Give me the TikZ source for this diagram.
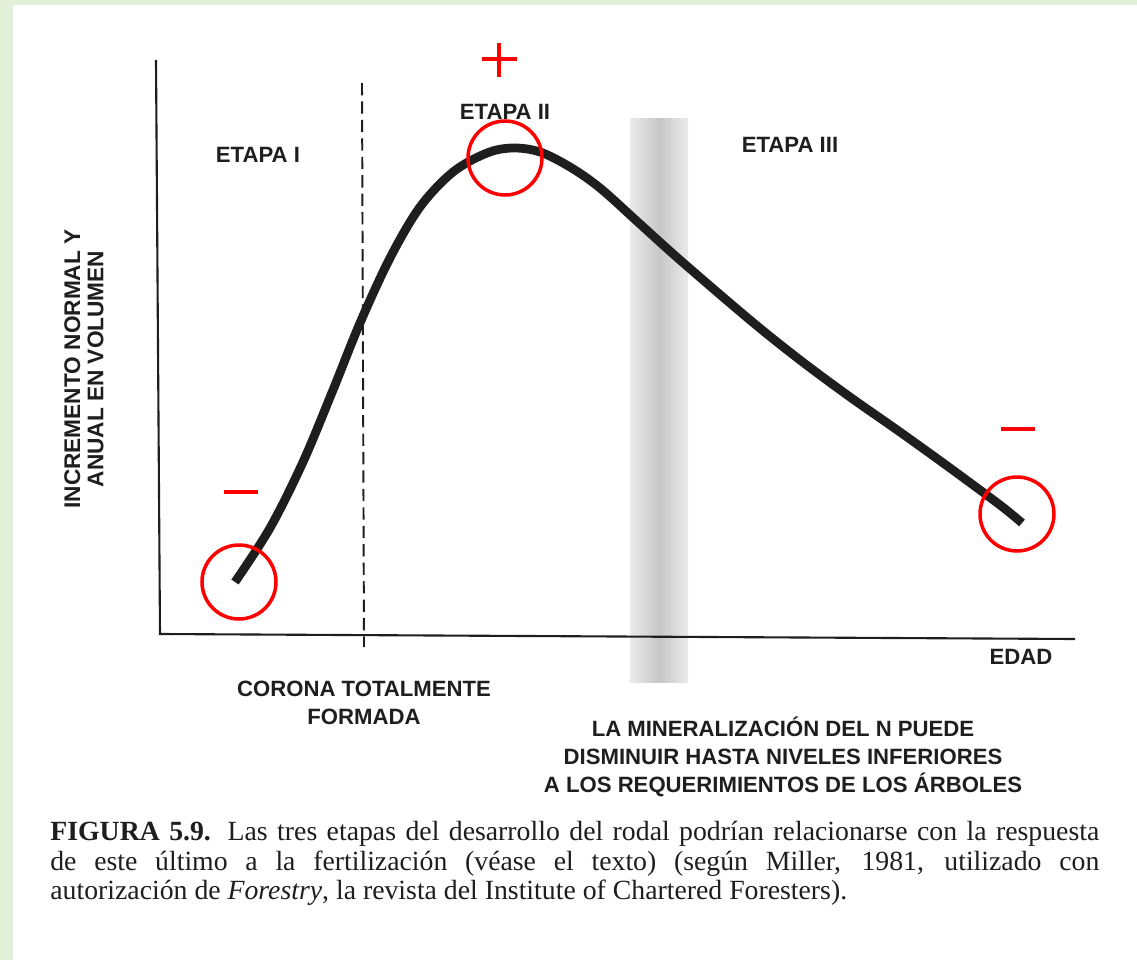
\documentclass[tikz,border=0pt]{standalone}
\usepackage{fontspec}
\setmainfont{Liberation Serif}
\setsansfont{Liberation Sans}
\definecolor{pagegreen}{HTML}{E2EFD9}
\definecolor{inkc}{HTML}{1E1E1E}
\begin{document}
\begin{tikzpicture}[x=0.02cm,y=-0.02cm,
  lbl/.style={font=\sffamily\bfseries\fontsize{12.6}{15.8}\selectfont, inner sep=0, align=center, text=inkc},
  redcirc/.style={circle, draw=red, line width=2pt, minimum size=1.48cm, inner sep=0},
  redmark/.style={red, line width=2.5pt},
  axisline/.style={inkc, line width=1.2pt},
  stageline/.style={inkc, line width=1.1pt, dash pattern=on 7pt off 3.5pt},
  curveline/.style={inkc, line width=5pt, line join=round}
]
\useasboundingbox (0,0) rectangle (1137,960);
\fill[white] (0,0) rectangle (1137,960);
\fill[pagegreen] (0,0) rectangle (1137,5);
\fill[pagegreen] (0,0) rectangle (13,960);

% grey band
\shade[left color=black!8, right color=black!8, middle color=black!22] (630,118) rectangle (688,682);

% axes
\coordinate (ytop) at (156,60);
\coordinate (origin) at (160,634);
\coordinate (xend) at (1075,639);
\draw[axisline] (ytop) -- (origin) -- (xend);

% dashed stage line
\coordinate (dtop) at (362,83);
\coordinate (dbot) at (364,647);
\draw[stageline] (dtop) -- (dbot);

% curve
\draw[curveline] plot[smooth, tension=0.55] coordinates {
 (235,582) (270,528) (303,462) (333,390) (360,323) (390,258) (420,207)
 (453,172) (487,153) (513,148) (540,152) (570,167) (600,188) (640,224)
 (680,260) (750,320) (800,360) (850,397) (900,432) (950,468) (1000,505) (1022,523)};

% labels
\node[lbl] (etapa1) at (258,155) {ETAPA I};
\node[lbl] (etapa2) at (505,112) {ETAPA II};
\node[lbl] (etapa3) at (790,145) {ETAPA III};
\node[lbl] (edad) at (1021,657) {EDAD};
\node[lbl] (corona) at (364,703) {CORONA TOTALMENTE\\FORMADA};
\node[lbl] (mineral) at (783,757) {LA MINERALIZACIÓN DEL N PUEDE\\DISMINUIR HASTA NIVELES INFERIORES\\A LOS REQUERIMIENTOS DE LOS ÁRBOLES};
\node[lbl, rotate=90, font=\sffamily\bfseries\fontsize{12.9}{13.3}\selectfont] (ylabel) at (84,369) {INCREMENTO NORMAL Y\\ANUAL EN VOLUMEN};

% caption
\node[anchor=north west, inner sep=0, text width=597pt, align=justify, text=inkc,
  font=\fontsize{15.8}{16.7}\selectfont] (caption) at (50,821)
 {\textbf{FIGURA 5.9.} Las tres etapas del desarrollo del rodal podrían relacionarse con la respuesta\linebreak
  de este último a la fertilización (véase el texto) (según Miller, 1981, utilizado con\linebreak
  autorización de \textit{Forestry}, la revista del Institute of Chartered Foresters).};

% red annotations
\node[redcirc] (circlow) at (239,582) {};
\node[redcirc] (circpeak) at (505,158) {};
\node[redcirc] (circend) at (1017,514) {};
\coordinate (plusl) at (482,59); \coordinate (plusr) at (517,59);
\coordinate (plust) at (499,43); \coordinate (plusb) at (499,77);
\draw[redmark] (plusl) -- (plusr);
\draw[redmark] (plust) -- (plusb);
\coordinate (minAl) at (224,492); \coordinate (minAr) at (258,492);
\draw[redmark] (minAl) -- (minAr);
\coordinate (minBl) at (1001,429); \coordinate (minBr) at (1035,429);
\draw[redmark] (minBl) -- (minBr);
\end{tikzpicture}
\end{document}
